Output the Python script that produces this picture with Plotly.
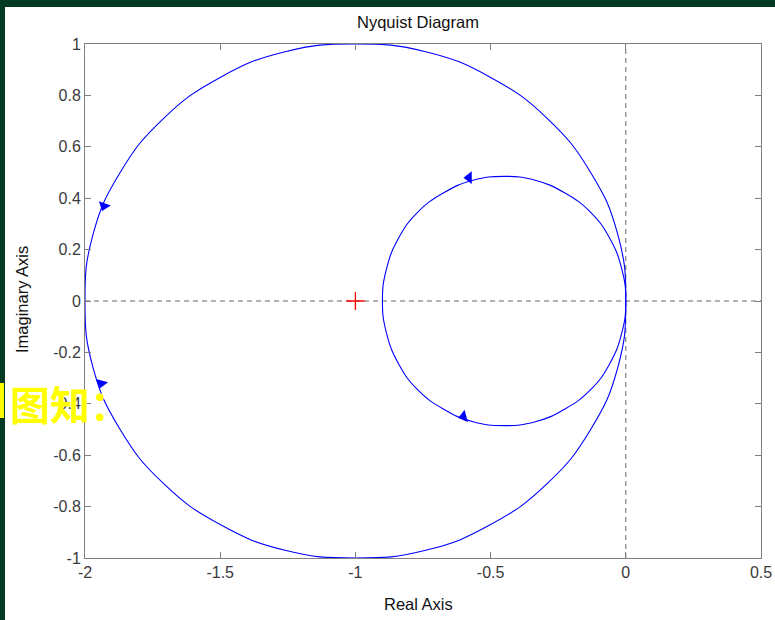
import plotly.graph_objects as go

# ---- data ----
big_re = [0.0, -0.03, -0.13, -0.29, -0.5, -0.74, -1.0, -1.26, -1.5, -1.71, -1.87, -1.97, -2.0,
          -1.97, -1.87, -1.71, -1.5, -1.26, -1.0, -0.74, -0.5, -0.29, -0.13, -0.03, 0.0]
big_im = [0.0, 0.26, 0.5, 0.71, 0.87, 0.97, 1.0, 0.97, 0.87, 0.71, 0.5, 0.26, 0.0,
          -0.26, -0.5, -0.71, -0.87, -0.97, -1.0, -0.97, -0.87, -0.71, -0.5, -0.26, 0.0]

small_re = [0.0, -0.015, -0.06, -0.13, -0.225, -0.335, -0.45, -0.565, -0.675, -0.77, -0.84, -0.885, -0.9,
            -0.885, -0.84, -0.77, -0.675, -0.565, -0.45, -0.335, -0.225, -0.13, -0.06, -0.015, 0.0]
small_im = [0.0, 0.125, 0.245, 0.345, 0.42, 0.47, 0.485, 0.47, 0.42, 0.345, 0.245, 0.125, 0.0,
            -0.125, -0.245, -0.345, -0.42, -0.47, -0.485, -0.47, -0.42, -0.345, -0.245, -0.125, 0.0]

arrow_re = [-1.93, -1.94, -0.58, -0.6]
arrow_im = [0.37, -0.32, 0.48, -0.45]
arrow_dir = [200, 195, 270, 255]   # marker angle (deg) of triangle-up symbol

crit_re = [-1.0]
crit_im = [0.0]

x_ticks = [-2, -1.5, -1, -0.5, 0, 0.5]
x_labels = ["-2", "-1.5", "-1", "-0.5", "0", "0.5"]
y_ticks = [-1, -0.8, -0.6, -0.4, -0.2, 0, 0.2, 0.4, 0.6, 0.8, 1]
y_labels = ["-1", "-0.8", "-0.6", "-0.4", "-0.2", "0", "0.2", "0.4", "0.6", "0.8", "1"]

BLUE = "#0000ff"
GRAY = "#7f7f7f"
FONT = "Liberation Sans, Arial, sans-serif"

fig = go.Figure()

# dashed zero lines
fig.add_trace(go.Scatter(x=[-2, 0.5], y=[0, 0], mode="lines",
                         line=dict(color="#666666", width=1, dash="5px,4px"), hoverinfo="skip"))
fig.add_trace(go.Scatter(x=[0, 0], y=[-1, 1], mode="lines",
                         line=dict(color="#666666", width=1, dash="5px,4px"), hoverinfo="skip"))

fig.add_trace(go.Scatter(x=big_re, y=big_im, mode="lines",
                         line=dict(color=BLUE, width=1.1, shape="spline", smoothing=1.3)))
fig.add_trace(go.Scatter(x=small_re, y=small_im, mode="lines",
                         line=dict(color=BLUE, width=1.1, shape="spline", smoothing=1.3)))

fig.add_trace(go.Scatter(x=arrow_re, y=arrow_im, mode="markers",
                         marker=dict(symbol="triangle-up", size=11, color=BLUE, angle=arrow_dir,
                                     line=dict(width=0))))

fig.add_trace(go.Scatter(x=crit_re, y=crit_im, mode="markers",
                         marker=dict(symbol="cross-thin", size=13,
                                     line=dict(color="#ff0000", width=1.3))))

L, R, T, B = 85, 14, 44, 62
W, H = 775, 620
pw, ph = W - L - R, H - T - B


def px(x):
    return (x - L) / pw


def py(y):
    return (H - B - y) / ph


axis_common = dict(showgrid=False, zeroline=False, showline=True, linecolor=GRAY, linewidth=1,
                   mirror="ticks", ticks="inside", ticklen=6, tickcolor=GRAY, automargin=False,
                   tickfont=dict(family=FONT, size=16, color="#3a3a3a"))

fig.update_layout(
    width=W, height=H,
    margin=dict(l=L, r=R, t=T, b=B),
    paper_bgcolor="#053a24",
    plot_bgcolor="white",
    showlegend=False,
    xaxis=dict(range=[-2, 0.5], tickvals=x_ticks, ticktext=x_labels, **axis_common),
    yaxis=dict(range=[-1, 1], tickvals=y_ticks, ticktext=y_labels, **axis_common),
    shapes=[
        dict(type="rect", xref="paper", yref="paper", x0=px(5), x1=px(W + 2), y0=py(H + 2), y1=py(7),
             fillcolor="white", line=dict(width=0), layer="below"),
        dict(type="rect", xref="paper", yref="paper", x0=px(0), x1=px(4), y0=py(418), y1=py(383),
             fillcolor="#ffff00", line=dict(width=0), layer="above"),
    ],
    annotations=[
        dict(text="Nyquist Diagram", xref="paper", yref="paper", x=px(418), y=py(22),
             showarrow=False, font=dict(family=FONT, size=16.5, color="#111111"),
             xanchor="center", yanchor="middle"),
        dict(text="Real Axis", xref="paper", yref="paper", x=px(418), y=py(604),
             showarrow=False, font=dict(family=FONT, size=16.5, color="#111111"),
             xanchor="center", yanchor="middle"),
        dict(text="Imaginary Axis", xref="paper", yref="paper", x=px(22), y=py(300),
             showarrow=False, textangle=-90, font=dict(family=FONT, size=16.5, color="#111111"),
             xanchor="center", yanchor="middle"),
        dict(text="<b>图知：</b>", xref="paper", yref="paper", x=px(8), y=py(403),
             showarrow=False, font=dict(family="Noto Sans CJK SC", size=40, color="#ffff00"),
             xanchor="left", yanchor="middle"),
    ],
)

fig.write_html("out.html")
